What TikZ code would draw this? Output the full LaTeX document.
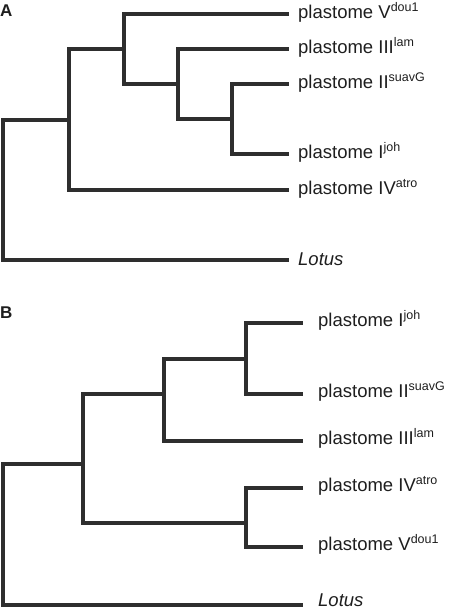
\documentclass[tikz,border=0pt]{standalone}
\usepackage{fontspec}
\setmainfont{Liberation Sans}
\usepackage{tikz}
\usetikzlibrary{positioning}
\usepackage{xcolor}
\definecolor{treegray}{HTML}{2E2E2E}
\definecolor{labelgray}{HTML}{1E1E1E}
\newcommand{\lblfont}{\fontsize{18.5}{22}\selectfont}
\newcommand{\supr}[1]{\raisebox{7pt}{\fontsize{12.5}{14}\selectfont #1}}

\begin{document}
\begin{tikzpicture}[
  x=1pt, y=-1pt,
  branch/.style={line width=3.3pt, color=treegray, line cap=rect, line join=miter},
  leaf/.style={anchor=base west, inner sep=0pt, text=labelgray, font=\lblfont},
  panel/.style={anchor=base west, inner sep=0pt, text=labelgray, font=\fontsize{17}{19}\selectfont\bfseries}
]
\useasboundingbox (0,0) rectangle (449,609);

% panel A
\node[panel] (labA) at (0,17) {A};
\coordinate (rootA) at (3,120);
\coordinate (nA1) at (69,120);
\coordinate (nA2) at (124,49);
\coordinate (nA3) at (178,84);
\coordinate (nA4) at (232,119);
\coordinate (tipVA) at (287,14);
\coordinate (tipIIIA) at (287,49);
\coordinate (tipIIA) at (287,84);
\coordinate (tipIA) at (287,154);
\coordinate (tipIVA) at (287,190);
\coordinate (tipLA) at (287,260);

\node[leaf] (labVA) at ([xshift=11pt,yshift=-5pt]tipVA) {plastome V\supr{dou1}};
\node[leaf] (labIIIA) at ([xshift=11pt,yshift=-5pt]tipIIIA) {plastome III\supr{lam}};
\node[leaf] (labIIA) at ([xshift=11pt,yshift=-5pt]tipIIA) {plastome II\supr{suavG}};
\node[leaf] (labIA) at ([xshift=11pt,yshift=-5pt]tipIA) {plastome I\supr{joh}};
\node[leaf] (labIVA) at ([xshift=11pt,yshift=-5pt]tipIVA) {plastome IV\supr{atro}};
\node[leaf] (labLA) at ([xshift=11pt,yshift=-5pt]tipLA) {\itshape Lotus};

\draw[branch] (rootA) |- (nA1);
\draw[branch] (rootA) |- (tipLA);
\draw[branch] (nA1) |- (nA2);
\draw[branch] (nA1) |- (tipIVA);
\draw[branch] (nA2) |- (tipVA);
\draw[branch] (nA2) |- (nA3);
\draw[branch] (nA3) |- (tipIIIA);
\draw[branch] (nA3) |- (nA4);
\draw[branch] (nA4) |- (tipIIA);
\draw[branch] (nA4) |- (tipIA);

% panel B
\node[panel] (labB) at (0,318) {B};
\coordinate (rootB) at (3,464);
\coordinate (nB1) at (83,464);
\coordinate (nB2) at (164,394);
\coordinate (nB3) at (246,359);
\coordinate (nB5) at (246,523);
\coordinate (tipIB) at (301,323);
\coordinate (tipIIB) at (301,394);
\coordinate (tipIIIB) at (301,441);
\coordinate (tipIVB) at (301,488);
\coordinate (tipVB) at (301,547);
\coordinate (tipLB) at (301,605);

\node[leaf] (labIB) at ([xshift=17pt,yshift=-3pt]tipIB) {plastome I\supr{joh}};
\node[leaf] (labIIB) at ([xshift=17pt,yshift=-3pt]tipIIB) {plastome II\supr{suavG}};
\node[leaf] (labIIIB) at ([xshift=17pt,yshift=-3pt]tipIIIB) {plastome III\supr{lam}};
\node[leaf] (labIVB) at ([xshift=17pt,yshift=-3pt]tipIVB) {plastome IV\supr{atro}};
\node[leaf] (labVB) at ([xshift=17pt,yshift=-3pt]tipVB) {plastome V\supr{dou1}};
\node[leaf] (labLB) at ([xshift=17pt,yshift=-1pt]tipLB) {\itshape Lotus};

\draw[branch] (rootB) |- (nB1);
\draw[branch] (rootB) |- (tipLB);
\draw[branch] (nB1) |- (nB2);
\draw[branch] (nB1) |- (nB5);
\draw[branch] (nB2) |- (nB3);
\draw[branch] (nB2) |- (tipIIIB);
\draw[branch] (nB3) |- (tipIB);
\draw[branch] (nB3) |- (tipIIB);
\draw[branch] (nB5) |- (tipIVB);
\draw[branch] (nB5) |- (tipVB);
\end{tikzpicture}
\end{document}
